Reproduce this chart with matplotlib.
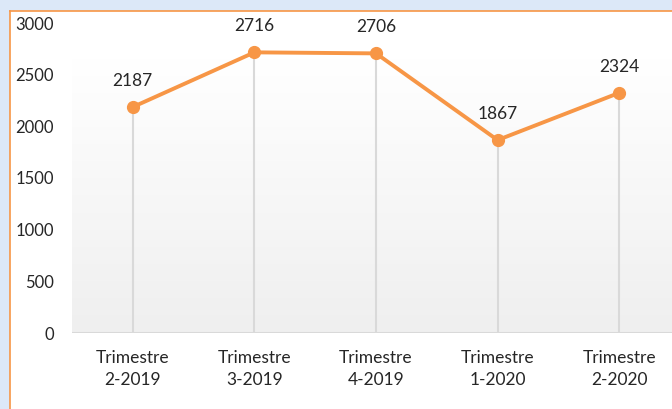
import matplotlib
matplotlib.use("Agg")
import matplotlib.pyplot as plt
import numpy as np
from matplotlib.patches import Rectangle

categories = ["Trimestre\n2-2019", "Trimestre\n3-2019", "Trimestre\n4-2019", "Trimestre\n1-2020", "Trimestre\n2-2020"]
values = [2187, 2716, 2706, 1867, 2324]
yticks = [0, 500, 1000, 1500, 2000, 2500, 3000]

W, H = 672, 409
plt.rcParams['font.family'] = ['Lato', 'DejaVu Sans']
fig = plt.figure(figsize=(W/100, H/100), dpi=100)
fig.patch.set_facecolor('#dce8f8')

# background axes: white chart area with orange border
bg = fig.add_axes([0, 0, 1, 1], zorder=-1)
bg.set_xlim(0, W)
bg.set_ylim(H, 0)
bg.axis('off')
bg.add_patch(Rectangle((10, 11), W, H, facecolor='white', edgecolor='none'))
bg.plot([10, 10], [11, H], color='#f79646', lw=1.2)
bg.plot([10, W], [11, 11], color='#f79646', lw=1.2)

left, right = 72, 680
top, bottom = 23, 333
ax = fig.add_axes([left/W, 1 - bottom/H, (right-left)/W, (bottom-top)/H], zorder=1)
ax.set_facecolor('none')

x = np.arange(len(categories))
ax.set_xlim(-0.5, len(categories) - 0.5)
ax.set_ylim(0, 3000)

# gradient plot-area fill
grad_top = (bottom - 58) / (bottom - top)
g = np.linspace(0, 1, 256).reshape(-1, 1)
c0 = np.array([0xff, 0xff, 0xff]) / 255
c1 = np.array([0xef, 0xef, 0xef]) / 255
img = c0[None, None, :] * (1 - g[..., None]) + c1[None, None, :] * g[..., None]
ax.imshow(img, extent=[0, 1, 0, grad_top], origin='upper', transform=ax.transAxes,
          aspect='auto', zorder=0)

# drop lines
ax.vlines(x, 0, values, colors='#d9d9d9', lw=1.5, zorder=1)
ax.axhline(0, color='#d9d9d9', lw=1.5, zorder=1)

ax.plot(x, values, color='#f79646', lw=2.8, marker='o', ms=8.5, zorder=3, clip_on=False)
for xi, v in zip(x, values):
    ax.annotate(f"{v}", (xi, v), xytext=(0, 13), textcoords='offset points',
                ha='center', va='bottom', fontsize=12.5, color='#262626')

for s in ax.spines.values():
    s.set_visible(False)
ax.set_yticks(yticks)
ax.set_yticklabels([str(t) for t in yticks], fontsize=12, color='#262626')
ax.set_xticks(x)
ax.set_xticklabels(categories, fontsize=12.5, color='#262626', linespacing=1.5)
ax.tick_params(axis='both', length=0)
ax.tick_params(axis='y', pad=13)
ax.tick_params(axis='x', pad=12)

fig.savefig('out.png', dpi=100, facecolor=fig.get_facecolor())
